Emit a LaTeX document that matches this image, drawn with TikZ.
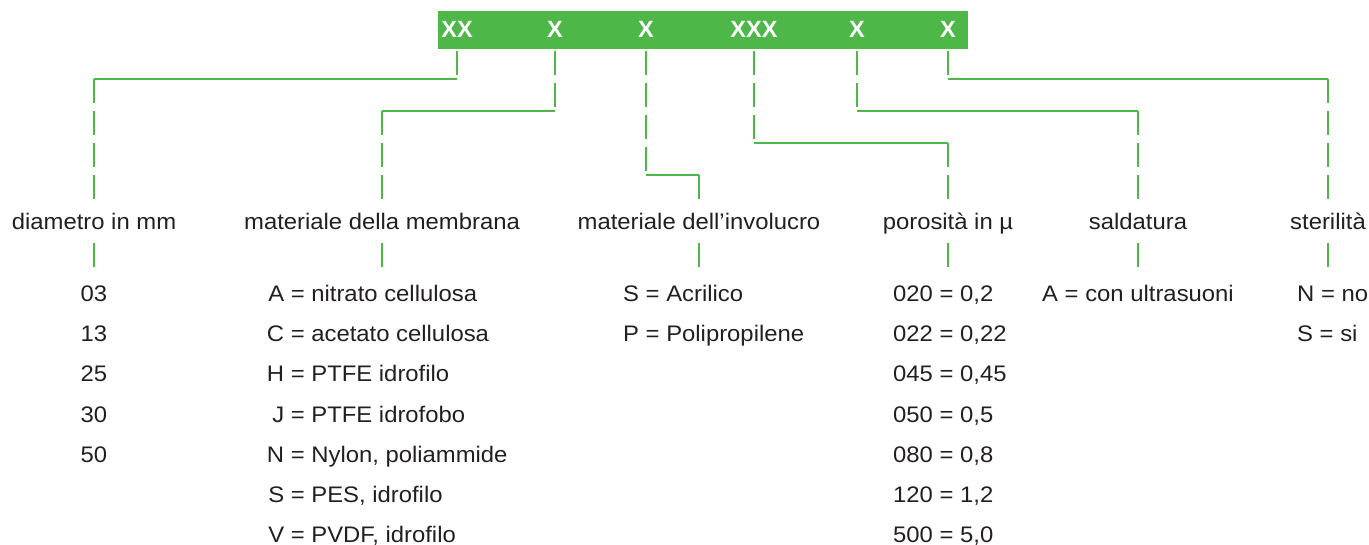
\documentclass[tikz,border=0pt]{standalone}
\usepackage{fontspec}
\setmainfont{Liberation Sans}[FakeStretch=1.06]
\newfontfamily\fieldfont{Liberation Sans}
\definecolor{codegreen}{RGB}{77,184,72}
\definecolor{ink}{RGB}{35,31,32}
\tikzset{
  vline/.style={codegreen, line width=2.2pt, dash pattern=on 24pt off 8pt},
  hline/.style={codegreen, line width=2.2pt},
  field/.style={inner sep=0pt, anchor=base, text=white,
    font=\fieldfont\bfseries\fontsize{23.5}{23.5}\selectfont},
  head/.style={inner sep=0pt, anchor=base, text height=27pt, text depth=13pt},
  val/.style={inner sep=0pt, anchor=base west},
  valc/.style={inner sep=0pt, anchor=base}
}
\newcommand{\lett}[1]{\makebox[17pt][r]{#1}}
\begin{document}
\begin{tikzpicture}[x=1pt, y=-1pt, text=ink, font=\fontsize{22.5}{27}\selectfont]
      \useasboundingbox (0,0) rectangle (1369,545);
      % code bar
      \node[fill=codegreen, minimum width=530pt, minimum height=38pt,
        inner sep=0pt, outer ysep=2pt] (bar) at (703,30) {};
      \draw
        (457,38) node[field] (f1){XX}
        (555,38) node[field] (f2){X}
        (646,38) node[field] (f3){X}
        (754,38) node[field] (f4){XXX}
        (857,38) node[field] (f5){X}
        (948,38) node[field] (f6){X};
      % headings
      \draw
        (94,230) node[head] (l1){diametro in mm}
        (382,230) node[head] (l2){materiale della membrana}
        (699,230) node[head] (l3){materiale dell’involucro}
        (948,230) node[head] (l4){porosità in µ}
        (1138,230) node[head] (l5){saldatura}
        (1328,230) node[head] (l6){sterilità};
      % values
      \draw
        (94,302) node[valc] (v11){03}
        (94,342) node[valc] (v12){13}
        (94,382) node[valc] (v13){25}
        (94,422) node[valc] (v14){30}
        (94,462) node[valc] (v15){50};
      \draw
        (267,302) node[val] (v21){\lett{A} = nitrato cellulosa}
        (267,342) node[val] (v22){\lett{C} = acetato cellulosa}
        (267,382) node[val] (v23){\lett{H} = PTFE idrofilo}
        (267,422) node[val] (v24){\lett{J} = PTFE idrofobo}
        (267,462) node[val] (v25){\lett{N} = Nylon, poliammide}
        (267,502) node[val] (v26){\lett{S} = PES, idrofilo}
        (267,542) node[val] (v27){\lett{V} = PVDF, idrofilo};
      \draw
        (623,302) node[val] (v31){S = Acrilico}
        (623,342) node[val] (v32){P = Polipropilene};
      \draw
        (893,302) node[val] (v41){020 = 0,2}
        (893,342) node[val] (v42){022 = 0,22}
        (893,382) node[val] (v43){045 = 0,45}
        (893,422) node[val] (v44){050 = 0,5}
        (893,462) node[val] (v45){080 = 0,8}
        (893,502) node[val] (v46){120 = 1,2}
        (893,542) node[val] (v47){500 = 5,0};
      \draw
        (1138,302) node[valc] (v51){A = con ultrasuoni};
      \draw
        (1297,302) node[val] (v61){N = no}
        (1297,342) node[val] (v62){S = si};
      % connectors
      \draw[vline] (bar.south -| f1) -- (f1 |- 0,79) coordinate (c1);
      \draw[hline] (c1) -- (c1 -| l1) coordinate (d1);
      \draw[vline] (d1) -- (l1.north);
      \draw[vline] (bar.south -| f2) -- (f2 |- 0,111) coordinate (c2);
      \draw[hline] (c2) -- (c2 -| l2) coordinate (d2);
      \draw[vline] (d2) -- (l2.north);
      \draw[vline] (bar.south -| f3) -- (f3 |- 0,175) coordinate (c3);
      \draw[hline] (c3) -- (c3 -| l3) coordinate (d3);
      \draw[vline] (d3) -- (l3.north);
      \draw[vline] (bar.south -| f4) -- (f4 |- 0,143) coordinate (c4);
      \draw[hline] (c4) -- (c4 -| l4) coordinate (d4);
      \draw[vline] (d4) -- (l4.north);
      \draw[vline] (bar.south -| f5) -- (f5 |- 0,111) coordinate (c5);
      \draw[hline] (c5) -- (c5 -| l5) coordinate (d5);
      \draw[vline] (d5) -- (l5.north);
      \draw[vline] (bar.south -| f6) -- (f6 |- 0,79) coordinate (c6);
      \draw[hline] (c6) -- (c6 -| l6) coordinate (d6);
      \draw[vline] (d6) -- (l6.north);
      % ticks under headings
      \begin{scope}[vline]
        \draw (l1.south) -- ++(0,24);
        \draw (l2.south) -- ++(0,24);
        \draw (l3.south) -- ++(0,24);
        \draw (l4.south) -- ++(0,24);
        \draw (l5.south) -- ++(0,24);
        \draw (l6.south) -- ++(0,24);
      \end{scope}
    \end{tikzpicture}
\end{document}
